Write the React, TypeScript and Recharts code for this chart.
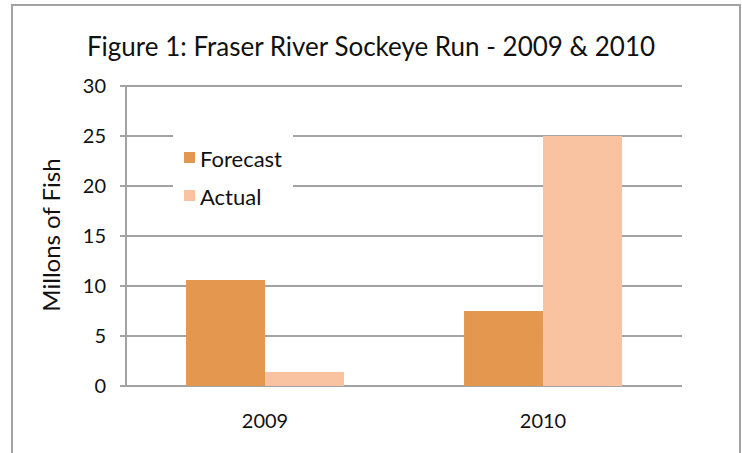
import React from 'react';
import { BarChart, Bar, XAxis, YAxis, CartesianGrid, Legend } from 'recharts';

const years = ['2009', '2010'];
const forecast = [10.6, 7.5];
const actual = [1.4, 25];
const yTicks = [0, 5, 10, 15, 20, 25, 30];
const boundaryTicks = [0, 1, 2];

const FORECAST_COLOR = '#E3974F';
const ACTUAL_COLOR = '#F9C2A1';
const GRID = '#A3A3A3';
const FONT = 'Lato, "Open Sans", sans-serif';

const data = years.map((year, i) => ({ year, idx: i + 0.5, Forecast: forecast[i], Actual: actual[i] }));

const LegendBox = () => (
    <div style={{ background: '#fff', width: 120, height: 76, fontFamily: FONT, fontSize: 22, color: '#111' }}>
        {[
            { name: 'Forecast', color: FORECAST_COLOR },
            { name: 'Actual', color: ACTUAL_COLOR },
        ].map((item, i) => (
            <div key={item.name} style={{ position: 'absolute', left: 11, top: 12 + i * 38, display: 'flex', alignItems: 'flex-end' }}>
                <span style={{ display: 'inline-block', width: 11, height: 11, background: item.color, marginRight: 5, marginBottom: 9 }} />
                <span style={{ lineHeight: '26px' }}>{item.name}</span>
            </div>
        ))}
    </div>
);

// rotated axis title, baseline on its right side
const YLabel = () => (
    <text x={60} y={235} transform="rotate(-90 60 235)" textAnchor="middle" fontFamily={FONT} fontSize={24} fill="#111">
        Millons of Fish
    </text>
);

export default function App() {
    return (
        <div style={{ position: 'absolute', left: 0, top: 0, width: 742, height: 453, overflow: 'hidden', background: '#fff' }}>
            <div style={{ position: 'absolute', left: 11, top: 4, width: 726, height: 460, border: `2px solid ${GRID}`, borderBottom: 'none' }} />
            <div style={{ position: 'absolute', left: 0, top: 30, width: 742, textAlign: 'center', fontFamily: FONT, fontSize: 26, color: '#111', lineHeight: '32px' }}>
                Figure 1: Fraser River Sockeye Run - 2009 &amp; 2010
            </div>
            <div style={{ position: 'absolute', left: 0, top: 0 }}>
                <BarChart
                    width={742}
                    height={453}
                    data={data}
                    margin={{ top: 86, right: 60, bottom: 27, left: 0 }}
                    barCategoryGap="21.6%"
                    barGap={0}
                >
                    <CartesianGrid horizontal vertical={false} stroke={GRID} strokeWidth={2} />
                    <XAxis
                        xAxisId="b"
                        type="number"
                        dataKey="idx"
                        domain={[0, 2]}
                        ticks={boundaryTicks}
                        height={0}
                        tick={false}
                        tickSize={6}
                        axisLine={{ stroke: GRID, strokeWidth: 2 }}
                        tickLine={{ stroke: GRID, strokeWidth: 2 }}
                    />
                    <XAxis
                        dataKey="year"
                        height={40}
                        axisLine={false}
                        tickLine={false}
                        tickSize={0}
                        tickMargin={28}
                        tick={{ fontFamily: FONT, fontSize: 20, fill: '#111' }}
                    />
                    <YAxis
                        width={126}
                        domain={[0, 30]}
                        ticks={yTicks}
                        interval={0}
                        tickSize={6}
                        tickMargin={14}
                        axisLine={{ stroke: GRID, strokeWidth: 2 }}
                        tickLine={{ stroke: GRID, strokeWidth: 2 }}
                        tick={{ fontFamily: FONT, fontSize: 20, fill: '#111' }}
                        label={<YLabel />}
                    />
                    <Legend
                        layout="vertical"
                        align="center"
                        verticalAlign="middle"
                        content={<LegendBox />}
                        wrapperStyle={{ position: 'absolute', left: 173, top: 134, width: 120, height: 76 }}
                    />
                    <Bar dataKey="Forecast" fill={FORECAST_COLOR} isAnimationActive={false} />
                    <Bar dataKey="Actual" fill={ACTUAL_COLOR} isAnimationActive={false} />
                </BarChart>
            </div>
        </div>
    );
}
